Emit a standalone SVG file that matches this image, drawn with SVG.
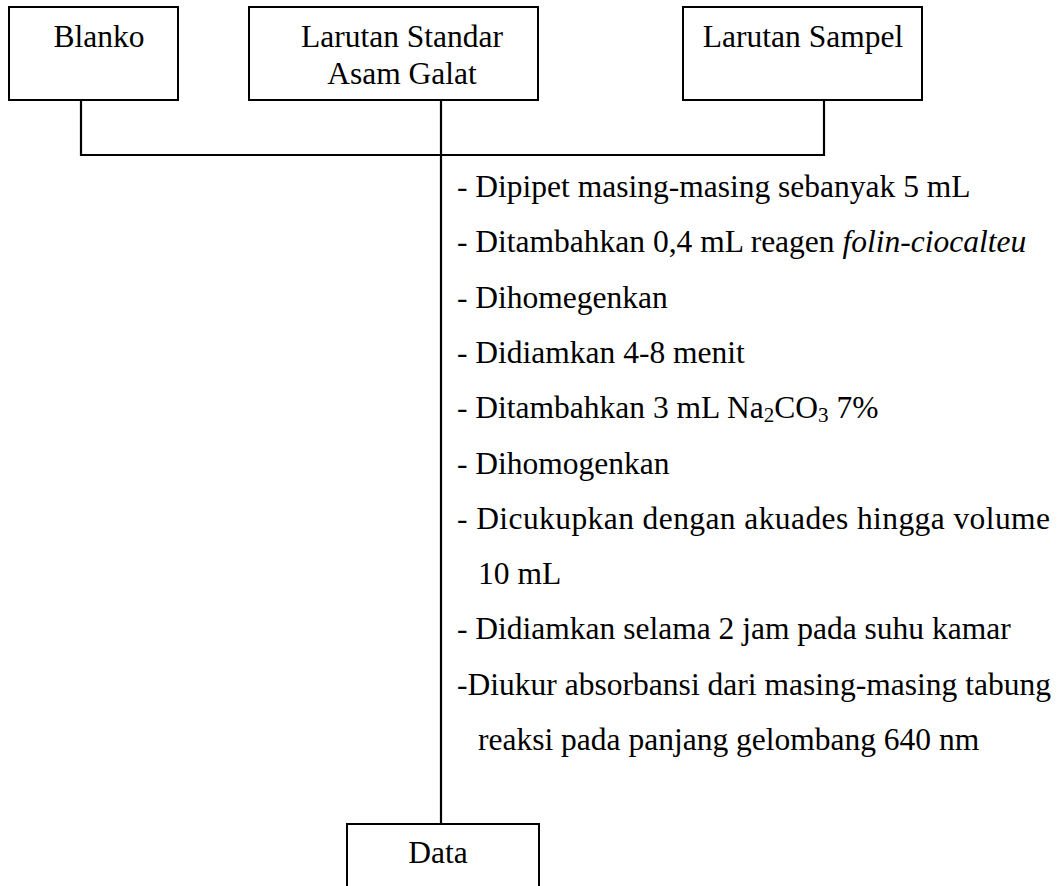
<svg xmlns="http://www.w3.org/2000/svg" width="1059" height="886" viewBox="0 0 1059 886">
<style>
.box{fill:#fff;stroke:#000;stroke-width:2}
.ln{fill:none;stroke:#000;stroke-width:2.2}
text{font-family:"Liberation Serif","Times New Roman",serif;font-size:31.5px;fill:#000}
.c{text-anchor:middle}
</style>
<rect width="1059" height="886" fill="#fff"/>
<g id="connectors">
<polyline class="ln" points="81,100 81,155 824,155 824,100"/>
<line class="ln" x1="441" y1="100" x2="441" y2="824"/>
</g>
<g id="blanko">
<rect class="box" x="9" y="7" width="169" height="93"/>
<text class="c" x="99" y="47">Blanko</text>
</g>
<g id="standar">
<rect class="box" x="249" y="7" width="289" height="93"/>
<text class="c" x="402" y="47">Larutan Standar</text>
<text class="c" x="402" y="84">Asam Galat</text>
</g>
<g id="sampel">
<rect class="box" x="683" y="7" width="239" height="93"/>
<text class="c" x="803" y="47">Larutan Sampel</text>
</g>
<g id="steps">
<text x="457" y="197">- Dipipet masing-masing sebanyak 5 mL</text>
<text x="457" y="252.3">- Ditambahkan 0,4 mL reagen <tspan font-style="italic">folin-ciocalteu</tspan></text>
<text x="457" y="307.6">- Dihomegenkan</text>
<text x="457" y="362.9">- Didiamkan 4-8 menit</text>
<text x="457" y="418.2">- Ditambahkan 3 mL Na<tspan font-size="21" dy="4">2</tspan><tspan dy="-4">CO</tspan><tspan font-size="21" dy="4">3</tspan><tspan dy="-4"> 7%</tspan></text>
<text x="457" y="473.5">- Dihomogenkan</text>
<text x="457" y="528.8" textLength="593" lengthAdjust="spacing">- Dicukupkan dengan akuades hingga volume</text>
<text x="478" y="584.1">10 mL</text>
<text x="457" y="639.4">- Didiamkan selama 2 jam pada suhu kamar</text>
<text x="457" y="694.7" textLength="594" lengthAdjust="spacing">-Diukur absorbansi dari masing-masing tabung</text>
<text x="478" y="750">reaksi pada panjang gelombang 640 nm</text>
</g>
<g id="data">
<rect class="box" x="347" y="824" width="192" height="80"/>
<text class="c" x="438" y="863">Data</text>
</g>
</svg>
